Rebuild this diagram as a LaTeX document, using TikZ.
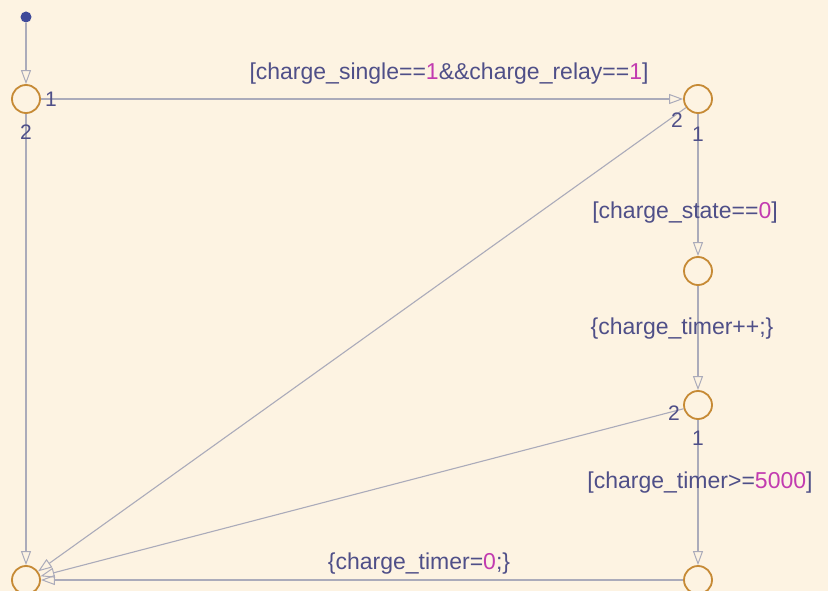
\documentclass[tikz,border=0pt]{standalone}
\usepackage{fontspec}
\setmainfont{Liberation Sans}
\usetikzlibrary{arrows.meta}
\definecolor{bgc}{HTML}{FDF3E2}
\definecolor{txtc}{HTML}{4F4F88}
\definecolor{numc}{HTML}{C23BB0}
\definecolor{junc}{HTML}{C68A35}
\definecolor{linec}{HTML}{ABABBA}
\definecolor{dotc}{HTML}{3F4A9A}
\tikzset{
  x=1pt, y=-1pt,
  junction/.style={circle, draw=junc, line width=1.8pt, minimum size=28pt, inner sep=0pt},
  trans/.style={draw=linec, line width=1.1pt, -{Triangle[open, length=14pt, width=10pt, line width=1pt]}},
  lbl/.style={text=txtc, font=\fontsize{23}{26}\selectfont, inner sep=0pt},
  ord/.style={text=txtc, font=\fontsize{21}{24}\selectfont, inner sep=0pt}
}
\newcommand{\nm}[1]{\textcolor{numc}{#1}}
\begin{document}
\begin{tikzpicture}
\fill[bgc] (0,0) rectangle (828,591);
\useasboundingbox (0,0) rectangle (828,591);
\node[circle, fill=dotc, inner sep=0pt, minimum size=11pt] (S) at (26,17) {};
\node[junction] (A) at (26,99) {};
\node[junction] (B) at (698,99) {};
\node[junction] (C) at (698,271) {};
\node[junction] (D) at (698,405) {};
\node[junction] (E) at (698,580) {};
\node[junction] (F) at (26,580) {};
\draw[trans] (S) -- (A);
\draw[trans] (A) -- (B);
\draw[trans] (B) -- (C);
\draw[trans] (C) -- (D);
\draw[trans] (D) -- (E);
\draw[trans] (E) -- (F);
\draw[trans] (B) -- (F);
\draw[trans] (D) -- (F);
\draw[trans] (A) -- (F);
\node[ord] (a1) at (51,99) {1};
\node[ord] (a2) at (26,132) {2};
\node[ord] (b2) at (677,120) {2};
\node[ord] (b1) at (698,134) {1};
\node[ord] (d2) at (674,413) {2};
\node[ord] (d1) at (698,438) {1};
\node[lbl] (t1) at (449,74) {[charge\_single==\nm{1}\&\&charge\_relay==\nm{1}]};
\node[lbl] (t2) at (685,213) {[charge\_state==\nm{0}]};
\node[lbl] (t3) at (682,329) {\{charge\_timer++;\}};
\node[lbl] (t4) at (700,483) {[charge\_timer>=\nm{5000}]};
\node[lbl] (t5) at (419,564) {\{charge\_timer=\nm{0};\}};
\end{tikzpicture}
\end{document}
